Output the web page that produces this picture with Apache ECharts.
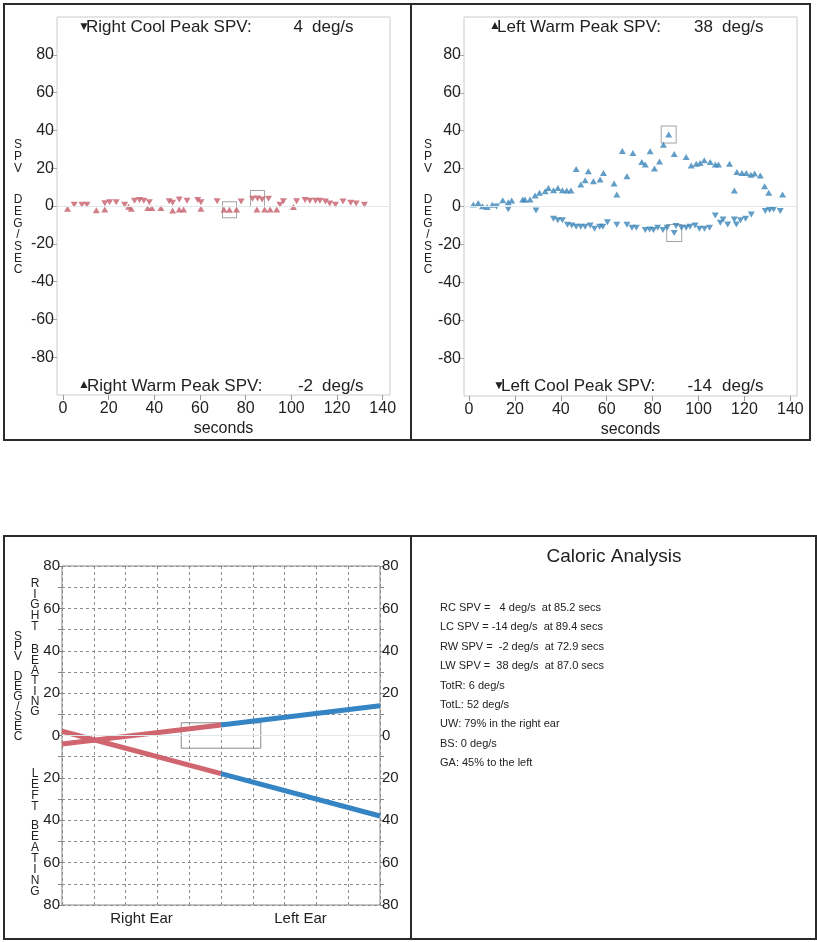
<!DOCTYPE html>
<html><head><meta charset="utf-8">
<script src="https://cdn.jsdelivr.net/npm/echarts@6/dist/echarts.min.js"></script>
<style>html,body{margin:0;padding:0;background:#fff}#c{width:817px;height:942px}</style>
</head><body><div id="c"></div>
<script>
// ---------- DATA ----------
// Right ear (top-left panel)
const rcTime = [4.9, 8.3, 10.5, 18.3, 20.4, 23.3, 27.0, 31.3, 33.5, 35.4, 37.8, 46.5, 48.0, 50.9, 54.3, 59.0, 60.4, 67.5, 78.0, 83.0, 85.2, 87.2, 90.0, 95.0, 96.5, 102.3, 106.0, 108.1, 110.6, 112.5, 114.9, 116.8, 119.3, 122.6, 126.0, 128.4, 132.0];
const rcSpv  = [0.6, 0.6, 0.6, 1.5, 2.0, 2.0, 0.6, 2.8, 3.2, 2.8, 2.0, 2.5, 1.7, 3.5, 2.8, 3.2, 2.0, 2.5, 2.4, 3.8, 4.0, 3.4, 3.8, 0.6, 2.5, 2.5, 3.2, 2.8, 2.8, 2.8, 2.4, 1.3, 0.6, 2.4, 1.7, 1.3, 0.6];
const rwTime = [2.0, 14.6, 18.3, 28.7, 29.9, 37.1, 38.9, 42.9, 48.0, 50.9, 52.8, 60.4, 70.5, 72.9, 76.0, 84.9, 88.3, 90.7, 93.6, 100.9];
const rwSpv  = [-1.5, -2.2, -1.8, -0.4, -1.5, -1.1, -1.1, -1.1, -2.4, -1.8, -1.8, -1.5, -1.8, -2.0, -1.8, -1.8, -1.8, -1.8, -1.8, -0.5];
// Left ear (top-right panel)
const lwTime = [1.9, 4.0, 5.9, 7.9, 10.1, 14.7, 17.1, 18.6, 23.4, 24.4, 26.6, 28.8, 30.7, 33.2, 34.6, 36.8, 38.7, 40.7, 42.6, 44.4, 46.7, 48.7, 50.6, 52.0, 54.2, 57.1, 58.6, 63.2, 64.4, 66.8, 68.8, 71.4, 75.3, 76.8, 78.9, 80.8, 83.0, 84.7, 87.0, 89.4, 94.6, 96.8, 99.0, 100.7, 102.5, 105.1, 107.3, 108.7, 113.5, 115.6, 116.7, 118.9, 120.8, 122.8, 124.4, 126.9, 128.8, 130.6, 136.6];
const lwSpv  = [1.1, 1.9, 0.1, -0.2, 0.9, 3.3, 2.3, 3.2, 3.7, 3.7, 3.7, 5.8, 7.2, 8.1, 9.8, 8.6, 9.8, 8.6, 8.4, 8.4, 19.8, 11.6, 13.9, 18.6, 13.3, 14.2, 17.7, 12.1, 6.3, 29.3, 16.0, 28.2, 23.5, 22.1, 29.1, 20.0, 23.8, 32.6, 38.0, 27.7, 26.1, 21.6, 22.6, 23.0, 24.4, 23.5, 22.1, 22.1, 22.6, 8.4, 18.2, 17.7, 17.7, 16.8, 17.4, 16.3, 10.7, 7.2, 6.3];
const lcTime = [12.0, 17.1, 29.2, 36.8, 38.7, 40.7, 42.9, 44.8, 46.7, 48.7, 50.6, 52.8, 54.7, 56.9, 58.3, 60.3, 64.4, 68.8, 71.0, 72.9, 76.8, 78.7, 80.4, 82.2, 84.5, 86.3, 89.4, 90.2, 92.6, 94.6, 96.3, 98.5, 100.4, 102.6, 104.8, 107.3, 109.5, 110.7, 112.7, 115.6, 116.5, 118.3, 120.5, 123.0, 129.1, 131.0, 132.7, 135.6];
const lcSpv  = [0.0, -1.5, -2.1, -6.5, -7.2, -7.2, -9.6, -10.0, -10.7, -10.7, -10.7, -10.0, -11.8, -10.7, -10.7, -8.3, -9.6, -9.6, -11.2, -11.2, -12.4, -12.1, -12.4, -11.2, -12.4, -11.2, -14.0, -10.3, -11.2, -11.2, -10.7, -10.0, -11.8, -11.8, -11.2, -4.7, -8.6, -6.9, -9.5, -6.9, -9.5, -7.2, -6.5, -4.2, -2.4, -1.9, -1.6, -2.4];
// Peaks: RC, RW, LW, LC
const peakNames  = ['Right Cool Peak SPV:', 'Right Warm Peak SPV:', 'Left Warm Peak SPV:', 'Left Cool Peak SPV:'];
const peakValues = [4, -2, 38, -14];
const peakTimes  = [85.2, 72.9, 87.0, 89.4];
const timeTicks  = [0, 20, 40, 60, 80, 100, 120, 140];
const spvTicks   = [-80, -60, -40, -20, 0, 20, 40, 60, 80];
// Butterfly chart
const earX       = [0, 5, 10];
const rightBeat  = [-4, 5, 14];
const leftBeat   = [2, -18, -38];
const earLabels  = {2.5: 'Right Ear', 7.5: 'Left Ear'};
const boxX       = [3.75, 6.25];
const boxY       = [-6, 6];
// Analysis text
const analysisTitle = 'Caloric Analysis';
const analysisLines = [
  'RC SPV =   4 deg/s  at 85.2 secs',
  'LC SPV = -14 deg/s  at 89.4 secs',
  'RW SPV =  -2 deg/s  at 72.9 secs',
  'LW SPV =  38 deg/s  at 87.0 secs',
  'TotR: 6 deg/s',
  'TotL: 52 deg/s',
  'UW: 79% in the right ear',
  'BS: 0 deg/s',
  'GA: 45% to the left'
];

// ---------- STYLE ----------
const FONT = '"Liberation Sans", Arial, sans-serif';
const RED = '#c65e6b', BLUE = '#3a85b8';
const LRED = '#d0656f', LBLUE = '#3584c4';
const TXT = '#222';
const zip = (a, b) => a.map((v, i) => [v, b[i]]);

const chart = echarts.init(document.getElementById('c'), null, {renderer: 'canvas'});

function topX(idx, min, max) {
  return {
    gridIndex: idx, type: 'value', min: min, max: max,
    axisLine: {show: false, onZero: false}, splitLine: {show: false},
    axisTick: {show: true, customValues: timeTicks, length: 5, lineStyle: {color: '#999'}},
    axisLabel: {customValues: timeTicks, fontSize: 16, color: TXT, fontFamily: FONT, margin: 6},
    name: 'seconds', nameLocation: 'middle', nameGap: 26,
    nameTextStyle: {fontSize: 16, color: TXT, fontFamily: FONT}
  };
}
function topY(idx) {
  return {
    gridIndex: idx, type: 'value', min: -100, max: 100, interval: 20,
    axisLine: {show: false, onZero: false}, splitLine: {show: false},
    axisTick: {show: true, customValues: spvTicks, length: 6, lineStyle: {color: '#aaa'}},
    axisLabel: {customValues: spvTicks, fontSize: 16, color: TXT, fontFamily: FONT, margin: 3}
  };
}
const zeroLine = {
  silent: true, symbol: ['none', 'none'], label: {show: false},
  lineStyle: {color: '#dfe9ec', type: 'solid', width: 1},
  data: [{yAxis: 0}]
};
const triDown = {type: 'scatter', symbol: 'triangle', symbolRotate: 180, symbolSize: [7, 6]};
const triUp = {type: 'scatter', symbol: 'triangle', symbolSize: [7, 6]};
const boxStyle = {color: 'rgba(0,0,0,0)', borderColor: '#8a8a8a', borderWidth: 1};

const dash = {color: '#8c8c8c', type: [3, 3], width: 1};

function vtext(x, y, str, lh, size) {
  return {type: 'text', x: x, y: y, silent: true,
    style: {text: str.split('').join('\n'), font: (size || 12) + 'px ' + FONT, fill: TXT,
      textAlign: 'center', textVerticalAlign: 'top', lineHeight: lh}};
}
function htext(x, y, str, size, align) {
  return {type: 'text', x: x, y: y, silent: true,
    style: {text: str, font: size + 'px ' + FONT, fill: TXT,
      textAlign: align || 'left', textVerticalAlign: 'middle'}};
}
function rect(x, y, w, h) {
  return {type: 'rect', shape: {x: x, y: y, width: w, height: h}, silent: true,
    style: {fill: 'none', stroke: '#2b2b2b', lineWidth: 2}};
}

const graphics = [
  rect(4, 4, 407, 436), rect(411, 4, 399, 436),
  rect(4, 536, 407, 403), rect(411, 536, 405, 403),
  // top-left
  vtext(18, 139, 'SPV', 11.7, 12), vtext(18, 194, 'DEG/SEC', 11.7, 12),
  htext(78, 27, '\u25BC', 12), htext(86, 27, peakNames[0], 17), htext(303, 27, String(peakValues[0]), 17, 'right'), htext(312, 27, 'deg/s', 17),
  htext(78, 385, '\u25B2', 12), htext(87, 386, peakNames[1], 17), htext(313, 386, String(peakValues[1]), 17, 'right'), htext(322, 386, 'deg/s', 17),
  // top-right
  vtext(428, 139, 'SPV', 11.7, 12), vtext(428, 194, 'DEG/SEC', 11.7, 12),
  htext(489, 26, '\u25B2', 12), htext(497, 27, peakNames[2], 17), htext(713, 27, String(peakValues[2]), 17, 'right'), htext(722, 27, 'deg/s', 17),
  htext(493, 386, '\u25BC', 12), htext(501, 386, peakNames[3], 17), htext(712, 386, String(peakValues[3]), 17, 'right'), htext(722, 386, 'deg/s', 17),
  // bottom-left side labels
  vtext(18, 632, 'SPV', 9.8, 12), vtext(18, 672, 'DEG/SEC', 10, 12),
  vtext(35, 578, 'RIGHT', 10.8, 12), vtext(35, 645, 'BEATING', 10.3, 12),
  vtext(35, 768, 'LEFT', 11, 12), vtext(35, 820, 'BEATING', 11, 12),
  // analysis panel
  htext(614, 557, analysisTitle, 19, 'center')
];
analysisLines.forEach((s, i) => graphics.push(htext(440, 608 + i * 19.4, s, 11)));

const option = {
  animation: false,
  backgroundColor: '#fff',
  grid: [
    {left: 57, top: 17, width: 333, height: 378, show: true, borderColor: '#cbcbcb', borderWidth: 1},
    {left: 464, top: 17, width: 333, height: 379, show: true, borderColor: '#cbcbcb', borderWidth: 1},
    {left: 62, top: 566, width: 318, height: 339, show: true, borderColor: '#888', borderWidth: 1}
  ],
  xAxis: [
    topX(0, -2.63, 143.2),
    topX(1, -2.18, 142.9),
    {gridIndex: 2, type: 'value', min: 0, max: 10, interval: 1, position: 'bottom',
      axisLine: {show: false, onZero: false}, axisTick: {show: false}, axisLabel: {show: false},
      splitLine: {show: true, lineStyle: dash}},
    {gridIndex: 2, type: 'value', min: 0, max: 10, interval: 2.5, position: 'bottom',
      axisLine: {show: false, onZero: false}, axisTick: {show: false}, splitLine: {show: false},
      axisLabel: {fontSize: 15, color: TXT, fontFamily: FONT, margin: 6,
        formatter: v => earLabels[v] || ''}}
  ],
  yAxis: [
    topY(0), topY(1),
    {gridIndex: 2, type: 'value', min: -80, max: 80, interval: 10, position: 'left',
      axisLine: {show: false, onZero: false}, splitLine: {show: true, lineStyle: dash},
      axisTick: {show: true, length: 4, lineStyle: {color: '#888'}},
      axisLabel: {fontSize: 15, color: TXT, fontFamily: FONT, margin: 2,
        formatter: v => (v % 20 === 0 ? String(Math.abs(v)) : '')}},
    {gridIndex: 2, type: 'value', min: -80, max: 80, interval: 10, position: 'right',
      axisLine: {show: false, onZero: false}, splitLine: {show: false},
      axisTick: {show: true, length: 4, lineStyle: {color: '#888'}},
      axisLabel: {fontSize: 15, color: TXT, fontFamily: FONT, margin: 2,
        formatter: v => (v % 20 === 0 ? String(Math.abs(v)) : '')}}
  ],
  series: [
    Object.assign({}, triDown, {name: 'RC', xAxisIndex: 0, yAxisIndex: 0, data: zip(rcTime, rcSpv), itemStyle: {color: RED}, markLine: zeroLine}),
    Object.assign({}, triUp, {name: 'RW', xAxisIndex: 0, yAxisIndex: 0, data: zip(rwTime, rwSpv), itemStyle: {color: RED}}),
    {type: 'scatter', name: 'R peaks', xAxisIndex: 0, yAxisIndex: 0, symbol: 'rect', symbolSize: [14, 16],
      data: zip(peakTimes.slice(0, 2), peakValues.slice(0, 2)), itemStyle: boxStyle, z: 1},
    Object.assign({}, triUp, {name: 'LW', xAxisIndex: 1, yAxisIndex: 1, data: zip(lwTime, lwSpv), itemStyle: {color: BLUE}, markLine: zeroLine}),
    Object.assign({}, triDown, {name: 'LC', xAxisIndex: 1, yAxisIndex: 1, data: zip(lcTime, lcSpv), itemStyle: {color: BLUE}}),
    {type: 'scatter', name: 'L peaks', xAxisIndex: 1, yAxisIndex: 1, symbol: 'rect', symbolSize: [15, 17],
      data: zip(peakTimes.slice(2), peakValues.slice(2)), itemStyle: boxStyle, z: 1},
    {type: 'line', xAxisIndex: 2, yAxisIndex: 2, symbol: 'none', showSymbol: false,
      data: [[earX[0], rightBeat[0]], [earX[1], rightBeat[1]]], lineStyle: {width: 5, color: LRED},
      markLine: zeroLine,
      markArea: {silent: true, itemStyle: boxStyle,
        data: [[{xAxis: boxX[0], yAxis: boxY[0]}, {xAxis: boxX[1], yAxis: boxY[1]}]]}},
    {type: 'line', xAxisIndex: 2, yAxisIndex: 2, symbol: 'none', showSymbol: false,
      data: [[earX[0], leftBeat[0]], [earX[1], leftBeat[1]]], lineStyle: {width: 5, color: LRED}},
    {type: 'line', xAxisIndex: 2, yAxisIndex: 2, symbol: 'none', showSymbol: false,
      data: [[earX[1], rightBeat[1]], [earX[2], rightBeat[2]]], lineStyle: {width: 5, color: LBLUE}},
    {type: 'line', xAxisIndex: 2, yAxisIndex: 2, symbol: 'none', showSymbol: false,
      data: [[earX[1], leftBeat[1]], [earX[2], leftBeat[2]]], lineStyle: {width: 5, color: LBLUE}}
  ],
  graphic: graphics
};
chart.setOption(option);
</script></body></html>
